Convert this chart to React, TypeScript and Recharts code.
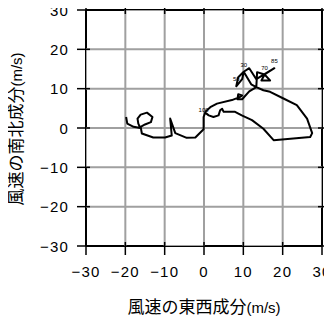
import React from 'react';
import { ComposedChart, Scatter, XAxis, YAxis, Label } from 'recharts';

// Hodograph path: east-west (u) and north-south (v) wind components, m/s
const pathU = [
  -19.8, -19.5, -17.9, -16.2, -16.7, -16.9, -16.1, -14.5, -13.1, -13.5, -15.0, -16.1, -15.8, -12.9,
  -9.9, -8.2, -8.6, -7.3, -4.4, -2.2, -0.1, -0.1, 0.3, 1.2, 2.4, 3.7, 4.1, 4.6, 5.0, 7.9, 9.6, 12.2,
  15.1, 17.7, 27.0, 27.5, 26.2, 23.6, 20.2, 16.8, 15.1, 13.3, 13.5, 15.4, 16.8, 14.6, 15.4, 17.9,
  13.3, 11.5, 10.1, 8.7, 8.2, 9.7, 10.1, 12.0, 13.3, 11.5, 9.7, 8.5, 8.7, 9.7, 9.2, 7.1, 3.3, 1.6, 0.3,
];
const pathV = [
  2.8, 1.1, 0.3, 0.0, 1.1, 2.4, 3.4, 3.9, 2.8, 1.5, 0.9, 0.3, -1.4, -2.4,
  -2.4, -1.9, 2.4, -1.3, -2.5, -2.4, -0.3, 2.8, 3.9, 3.2, 2.8, 3.2, 4.5, 4.9, 4.1, 4.1, 3.2, 2.0,
  -0.2, -3.1, -2.3, -1.3, 2.4, 5.8, 7.5, 9.2, 9.6, 10.4, 14.2, 13.6, 12.1, 12.1, 13.6, 15.2,
  12.4, 15.2, 14.3, 12.9, 10.6, 12.4, 14.3, 11.1, 10.4, 9.3, 7.3, 7.3, 8.6, 8.3, 7.9, 7.1, 6.2, 5.3, 4.1,
];

// Labelled levels along the trace
const labelText = ['100', '30', '50', '70', '85'];
const labelU = [-0.1, 10.1, 8.2, 15.4, 17.9];
const labelV = [2.8, 14.3, 10.6, 13.6, 15.2];

const axisTicks = [-30, -20, -10, 0, 10, 20, 30];
const gridValues = [-20, -10, 0, 10, 20];
const axisMin = -30;
const axisMax = 30;

// Grid drawn as polylines through the chart's own scales
const gridData: { u: number; v: number }[] = [];
gridValues.forEach((g, i) => {
  if (i % 2 === 0) {
    gridData.push({ u: g, v: axisMin }, { u: g, v: axisMax });
  } else {
    gridData.push({ u: g, v: axisMax }, { u: g, v: axisMin });
  }
});
const gridDataH: { u: number; v: number }[] = [];
gridValues.forEach((g, i) => {
  if (i % 2 === 0) {
    gridDataH.push({ u: axisMin, v: g }, { u: axisMax, v: g });
  } else {
    gridDataH.push({ u: axisMax, v: g }, { u: axisMin, v: g });
  }
});

const pathData = pathU.map((u, i) => ({ u, v: pathV[i] }));
const labelData = labelText.map((t, i) => ({ u: labelU[i], v: labelV[i], t }));

const FONT = '"Liberation Sans", Arial, Helvetica, sans-serif';
const CJK = '"Noto Sans CJK JP", "Noto Sans CJK SC", sans-serif';

const fmt = (v: number) => (v < 0 ? '\u2212' + Math.abs(v) : String(v));

const renderBottomTick = (props: any) => {
  const { x, y, payload } = props;
  return (
    <g>
      <path d={`M${x},${y - 4}L${x},${y + 9}`} stroke="#000" strokeWidth={1.5} fill="none" />
      <text x={x} y={y + 31} textAnchor="middle" fontSize={15} fontFamily={FONT} letterSpacing={1.2} fill="#000">
        {fmt(payload.value)}
      </text>
    </g>
  );
};
const renderTopTick = (props: any) => {
  const { x, y } = props;
  return <path d={`M${x},${y - 9}L${x},${y + 4}`} stroke="#000" strokeWidth={1.5} fill="none" />;
};
const renderLeftTick = (props: any) => {
  const { x, y, payload } = props;
  return (
    <g>
      <path d={`M${x - 9},${y}L${x + 4},${y}`} stroke="#000" strokeWidth={1.5} fill="none" />
      <text x={x - 17} y={y + 5.5} textAnchor="end" fontSize={15} fontFamily={FONT} letterSpacing={1.2} fill="#000">
        {fmt(payload.value)}
      </text>
    </g>
  );
};
const renderRightTick = (props: any) => {
  const { x, y } = props;
  return <path d={`M${x - 4},${y}L${x + 9},${y}`} stroke="#000" strokeWidth={1.5} fill="none" />;
};

const XTitle = (props: any) => {
  const vb = props.viewBox || { x: 86, y: 246, width: 236, height: 40 };
  return (
    <text x={vb.x + vb.width / 2} y={vb.y + 67} textAnchor="middle" fill="#000">
      <tspan fontFamily={CJK} fontSize={17}>風速の東西成分</tspan>
      <tspan fontFamily={FONT} fontSize={15}>(m/s)</tspan>
    </text>
  );
};
const YTitle = (props: any) => {
  const vb = props.viewBox || { x: 26, y: 10, width: 60, height: 236 };
  const cx = vb.x - 4;
  const cy = vb.y + vb.height / 2 + 1;
  return (
    <text x={cx} y={cy} textAnchor="middle" transform={`rotate(-90 ${cx} ${cy})`} fill="#000">
      <tspan fontFamily={CJK} fontSize={17}>風速の南北成分</tspan>
      <tspan fontFamily={FONT} fontSize={15}>(m/s)</tspan>
    </text>
  );
};

const NoShape = () => <g />;
const LevelLabel = (p: any) => (
  <text x={p.cx} y={p.cy - 5} textAnchor="middle" fontSize={6} fontFamily={FONT} fill="#000">
    {p.payload.t}
  </text>
);

export default function App() {
  return (
    <div style={{ marginLeft: -8, marginTop: -8, width: 332, height: 319, background: '#fff' }}>
      <ComposedChart width={332} height={319} margin={{ top: 9, right: 9, left: 26, bottom: 33 }}>
        <XAxis
          dataKey="u"
          type="number"
          orientation="bottom"
          domain={[axisMin, axisMax]}
          ticks={axisTicks}
          interval={0}
          allowDataOverflow
          height={40}
          tickSize={0}
          tickMargin={0}
          tickLine={false}
          tick={renderBottomTick}
          axisLine={{ stroke: '#000', strokeWidth: 2 }}
        >
          <Label content={<XTitle />} />
        </XAxis>
        <XAxis
          xAxisId="t"
          dataKey="u"
          type="number"
          orientation="top"
          domain={[axisMin, axisMax]}
          ticks={axisTicks}
          interval={0}
          allowDataOverflow
          height={1}
          tickSize={0}
          tickMargin={0}
          tickLine={false}
          tick={renderTopTick}
          axisLine={{ stroke: '#000', strokeWidth: 2 }}
        />
        <YAxis
          dataKey="v"
          type="number"
          orientation="left"
          domain={[axisMin, axisMax]}
          ticks={axisTicks}
          interval={0}
          allowDataOverflow
          width={60}
          tickSize={0}
          tickMargin={0}
          tickLine={false}
          tick={renderLeftTick}
          axisLine={{ stroke: '#000', strokeWidth: 2 }}
        >
          <Label content={<YTitle />} />
        </YAxis>
        <YAxis
          yAxisId="r"
          dataKey="v"
          type="number"
          orientation="right"
          domain={[axisMin, axisMax]}
          ticks={axisTicks}
          interval={0}
          allowDataOverflow
          width={1}
          tickSize={0}
          tickMargin={0}
          tickLine={false}
          tick={renderRightTick}
          axisLine={{ stroke: '#000', strokeWidth: 2 }}
        />
        <Scatter
          name="gridV"
          data={gridData}
          line={{ stroke: '#a0a0a0', strokeWidth: 2 }}
          shape={<NoShape />}
          isAnimationActive={false}
        />
        <Scatter
          name="gridH"
          data={gridDataH}
          line={{ stroke: '#a0a0a0', strokeWidth: 2 }}
          shape={<NoShape />}
          isAnimationActive={false}
        />
        <Scatter
          name="path"
          data={pathData}
          line={{ stroke: '#000', strokeWidth: 2, strokeLinejoin: 'round' }}
          shape={<NoShape />}
          isAnimationActive={false}
        />
        <Scatter
          name="labels"
          data={labelData}
          shape={<LevelLabel />}
          isAnimationActive={false}
        />
      </ComposedChart>
    </div>
  );
}
